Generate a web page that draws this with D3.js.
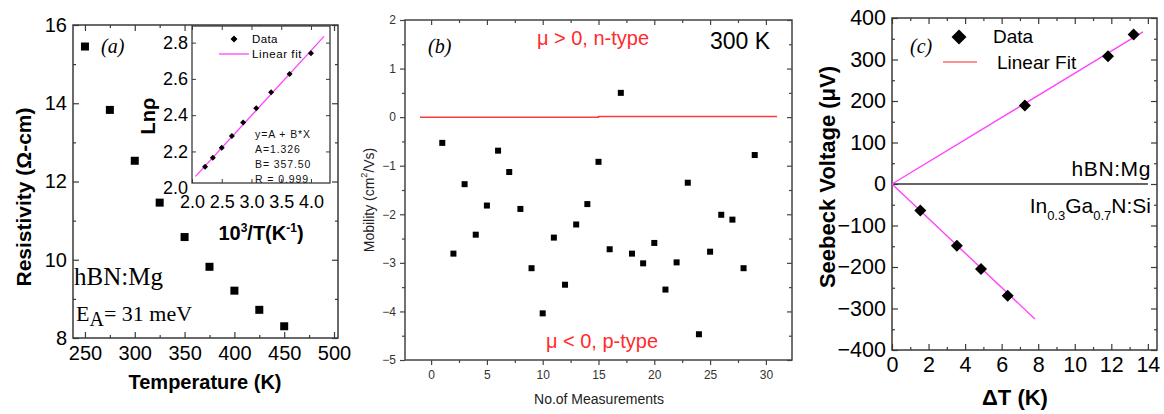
<!DOCTYPE html>
<html>
<head>
<meta charset="utf-8">
<script src="https://cdn.jsdelivr.net/npm/d3@7"></script>
<style>
  body { margin: 0; background: #fff; }
  svg { display: block; }
</style>
</head>
<body>
<svg id="fig" width="1164" height="414" font-family="Liberation Sans, Arial, sans-serif"></svg>
<script>
// ---------- (a) resistivity of hBN:Mg vs temperature ----------
const temperatureK = [250, 275, 300, 325, 350, 375, 400, 425, 450];
const resistivity  = [15.45, 13.83, 12.53, 11.46, 10.58, 9.82, 9.21, 8.72, 8.30];
const tempTicks    = [250, 300, 350, 400, 450, 500];
const rhoTicks     = [8, 10, 12, 14, 16];

// inset: Arrhenius plot, ln(rho) vs 10^3/T
const invTemp      = [2.22, 2.35, 2.50, 2.67, 2.86, 3.08, 3.33, 3.64, 4.00];
const lnRho        = [2.116, 2.165, 2.220, 2.285, 2.360, 2.438, 2.526, 2.627, 2.741];
const invTempTicks = [2.0, 2.5, 3.0, 3.5, 4.0];
const lnRhoTicks   = [2.0, 2.2, 2.4, 2.6, 2.8];
const fitA = 1.326, fitB = 357.50;          // y = A + B*X  (X = 1/T)
const fitRange = [2.06, 4.22];

// ---------- (b) Hall mobility at 300 K ----------
const measurementNo = [1,2,3,4,5,6,7,8,9,10,11,12,13,14,15,16,17,18,19,20,21,22,23,24,25,26,27,28,29];
const mobility = [-0.53, -2.81, -1.38, -2.42, -1.82, -0.69, -1.13, -1.89, -3.11, -4.04,
                  -2.48, -3.45, -2.21, -1.79, -0.92, -2.72, 0.50, -2.81, -3.01, -2.59,
                  -3.55, -2.99, -1.35, -4.47, -2.77, -2.01, -2.11, -3.11, -0.78];
const zeroLineX = [-1, 15, 15, 31];
const zeroLineY = [0, 0, 0.015, 0.015];
const measTicks = [0, 5, 10, 15, 20, 25, 30];
const mobTicks  = [-5, -4, -3, -2, -1, 0, 1, 2];

// ---------- (c) Seebeck voltage vs temperature difference ----------
const hbnDeltaT    = [7.27, 11.82, 13.22];
const hbnSeebeck   = [189, 308, 360];
const inganDeltaT  = [1.55, 3.55, 4.87, 6.33];
const inganSeebeck = [-64, -149, -205, -269];
const fitSlopes    = [26.7, -41.6];          // uV/K, fits through the origin
const fitEnds      = [13.73, 7.82];
const dTTicks      = [0, 2, 4, 6, 8, 10, 12, 14];
const seebeckTicks = [-400, -300, -200, -100, 0, 100, 200, 300, 400];

const svg = d3.select("#fig");
const FRAME = "#3a3a3a";
const MAGENTA = "#ff44ff";
const SANS = "Liberation Sans, Arial, sans-serif";
const SERIF = "Liberation Serif, Times New Roman, serif";

// Draws one axis side: ticks (inward when size < 0) and optional labels.
function axisSide(g, maker, scale, values, opts) {
  const ax = maker(scale).tickValues(values)
    .tickSizeInner(opts.size).tickSizeOuter(0)
    .tickPadding(opts.pad || 3)
    .tickFormat(opts.fmt || (() => ""));
  const a = g.append("g").attr("transform", opts.tr).call(ax);
  a.attr("font-family", SANS);
  a.select(".domain").remove();
  a.selectAll(".tick line").attr("stroke", opts.color || FRAME).attr("stroke-width", opts.sw || 1.2);
  a.selectAll(".tick text")
    .attr("font-size", opts.fs || 12)
    .attr("fill", opts.tc || "#000");
  return a;
}
function minors(major) {
  const out = [];
  for (let i = 0; i < major.length - 1; i++) out.push((major[i] + major[i + 1]) / 2);
  return out;
}
function frame(g, x0, y0, x1, y1, sw, color) {
  g.append("rect").attr("x", x0).attr("y", y0).attr("width", x1 - x0).attr("height", y1 - y0)
    .attr("fill", "none").attr("stroke", color || FRAME).attr("stroke-width", sw || 1.5);
}
function diamond(g, cx, cy, s) {
  g.append("path")
    .attr("d", `M${cx},${cy - s / 2}L${cx + s / 2},${cy}L${cx},${cy + s / 2}L${cx - s / 2},${cy}Z`)
    .attr("fill", "#000");
}

// ======================= panel (a) =======================
const gA = svg.append("g");
const A = { l: 73, r: 338, t: 25, b: 338 };
const xA = d3.scaleLinear().domain([238, 504]).range([A.l, A.r]);
const yA = d3.scaleLinear().domain([8, 16]).range([A.b, A.t]);

axisSide(gA, d3.axisBottom, xA, tempTicks, { tr: `translate(0,${A.b})`, size: -6, pad: 8, fs: 20, fmt: d3.format("d") });
axisSide(gA, d3.axisBottom, xA, minors(tempTicks), { tr: `translate(0,${A.b})`, size: -3 });
axisSide(gA, d3.axisTop, xA, tempTicks, { tr: `translate(0,${A.t})`, size: -6 });
axisSide(gA, d3.axisTop, xA, minors(tempTicks), { tr: `translate(0,${A.t})`, size: -3 });
axisSide(gA, d3.axisLeft, yA, rhoTicks, { tr: `translate(${A.l},0)`, size: -6, pad: 6, fs: 20, fmt: d3.format("d") });
axisSide(gA, d3.axisLeft, yA, minors(rhoTicks), { tr: `translate(${A.l},0)`, size: -3 });
axisSide(gA, d3.axisRight, yA, rhoTicks, { tr: `translate(${A.r},0)`, size: -6 });
axisSide(gA, d3.axisRight, yA, minors(rhoTicks), { tr: `translate(${A.r},0)`, size: -3 });
frame(gA, A.l, A.t, A.r, A.b);

gA.selectAll("rect.pt").data(temperatureK).join("rect").attr("class", "pt")
  .attr("x", (d) => xA(d) - 4).attr("y", (d, i) => yA(resistivity[i]) - 4)
  .attr("width", 8).attr("height", 8).attr("fill", "#000");

gA.append("text").attr("transform", "translate(23,197) rotate(-90)")
  .attr("text-anchor", "middle").attr("dominant-baseline", "central")
  .attr("font-weight", "bold").attr("font-size", 21).text("Resistivity (Ω-cm)");
gA.append("text").attr("x", 205).attr("y", 389).attr("text-anchor", "middle")
  .attr("font-weight", "bold").attr("font-size", 20).text("Temperature (K)");
gA.append("text").attr("x", 101).attr("y", 53).attr("font-family", SERIF)
  .attr("font-style", "italic").attr("font-size", 20).text("(a)");
gA.append("text").attr("x", 74).attr("y", 285).attr("font-family", SERIF)
  .attr("font-size", 25).text("hBN:Mg");
const ea = gA.append("text").attr("x", 76).attr("y", 321).attr("font-family", SERIF)
  .attr("font-size", 22);
ea.append("tspan").text("E");
ea.append("tspan").attr("dy", 5).attr("font-size", 20).text("A");
ea.append("tspan").attr("dy", -5).text("= 31 meV");

// ---------- inset ----------
const gI = svg.append("g");
const I = { l: 192, r: 330, t: 26, b: 183 };
const xI = d3.scaleLinear().domain([2.0, 4.32]).range([I.l, I.r]);
const yI = d3.scaleLinear().domain([2.0, 2.8]).range([187.7, 42.6]);
gI.append("rect").attr("x", I.l).attr("y", I.t).attr("width", I.r - I.l).attr("height", I.b - I.t).attr("fill", "#fff");
axisSide(gI, d3.axisBottom, xI, invTempTicks, { tr: `translate(0,${I.b})`, size: -4, pad: 12, fs: 18, fmt: d3.format(".1f"), sw: 1 });
axisSide(gI, d3.axisTop, xI, invTempTicks, { tr: `translate(0,${I.t})`, size: -4, sw: 1 });
axisSide(gI, d3.axisLeft, yI, lnRhoTicks.slice(1), { tr: `translate(${I.l},0)`, size: -4, sw: 1 });
axisSide(gI, d3.axisLeft, yI, lnRhoTicks, { tr: `translate(${I.l},0)`, size: 0, pad: 4, fs: 18, fmt: d3.format(".1f") });
axisSide(gI, d3.axisRight, yI, lnRhoTicks.slice(1), { tr: `translate(${I.r},0)`, size: -4, sw: 1 });
frame(gI, I.l, I.t, I.r, I.b, 1.3);

const fitLine = d3.line().x((d) => xI(d)).y((d) => yI(fitA + (fitB / 1000) * d));
gI.append("path").attr("d", fitLine(fitRange)).attr("stroke", MAGENTA).attr("stroke-width", 1.3).attr("fill", "none");
invTemp.forEach((v, i) => diamond(gI, xI(v), yI(lnRho[i]), 6));

diamond(gI, 234, 39, 7);
gI.append("text").attr("x", 252).attr("y", 43).attr("font-size", 11.5).attr("letter-spacing", 0.4).text("Data");
gI.append("line").attr("x1", 219).attr("x2", 249).attr("y1", 54).attr("y2", 54).attr("stroke", MAGENTA).attr("stroke-width", 1.3);
gI.append("text").attr("x", 252).attr("y", 58).attr("font-size", 11.5).attr("letter-spacing", 0.6).text("Linear fit");
const ann = ["y=A + B*X", `A=${fitA.toFixed(3)}`, `B= ${fitB.toFixed(2)}`, "R = 0.999"];
gI.selectAll("text.ann").data(ann).join("text").attr("class", "ann")
  .attr("x", 255).attr("y", (d, i) => 137.5 + i * 15)
  .attr("font-size", 10.5).attr("letter-spacing", 0.9).attr("fill", "#111").text((d) => d);

gI.append("text").attr("transform", "translate(148,116) rotate(-90)")
  .attr("text-anchor", "middle").attr("dominant-baseline", "central")
  .attr("font-weight", "bold").attr("font-size", 20).text("Lnρ");
const ix = gI.append("text").attr("x", 261).attr("y", 240).attr("text-anchor", "middle")
  .attr("font-weight", "bold").attr("font-size", 20);
ix.append("tspan").text("10");
ix.append("tspan").attr("dy", -8).attr("font-size", 12).text("3");
ix.append("tspan").attr("dy", 8).text("/T(K");
ix.append("tspan").attr("dy", -8).attr("font-size", 12).text("-1");
ix.append("tspan").attr("dy", 8).text(")");

// ======================= panel (b) =======================
const gB = svg.append("g");
const B = { l: 405, r: 792, t: 20, b: 360 };
const xB = d3.scaleLinear().domain([-2.34, 32.34]).range([B.l, B.r]);
const yB = d3.scaleLinear().domain([-5, 2]).range([B.b, B.t]);
const BF = "#444";

axisSide(gB, d3.axisBottom, xB, measTicks, { tr: `translate(0,${B.b})`, size: 5, pad: 5, fs: 12, tc: "#333", fmt: d3.format("d"), color: BF });
axisSide(gB, d3.axisBottom, xB, minors(measTicks), { tr: `translate(0,${B.b})`, size: 3, color: BF });
axisSide(gB, d3.axisTop, xB, measTicks, { tr: `translate(0,${B.t})`, size: -5, color: BF });
axisSide(gB, d3.axisTop, xB, minors(measTicks), { tr: `translate(0,${B.t})`, size: -3, color: BF });
axisSide(gB, d3.axisLeft, yB, mobTicks, { tr: `translate(${B.l},0)`, size: 5, pad: 4, fs: 12, tc: "#333", fmt: d3.format("d"), color: BF });
axisSide(gB, d3.axisLeft, yB, minors(mobTicks), { tr: `translate(${B.l},0)`, size: 3, color: BF });
axisSide(gB, d3.axisRight, yB, mobTicks, { tr: `translate(${B.r},0)`, size: -5, color: BF });
axisSide(gB, d3.axisRight, yB, minors(mobTicks), { tr: `translate(${B.r},0)`, size: -3, color: BF });
frame(gB, B.l, B.t, B.r, B.b, 1.5, BF);

const zl = d3.line().x((d) => xB(d)).y((d, i) => yB(zeroLineY[i]));
gB.append("path").attr("d", zl(zeroLineX)).attr("stroke", "#ff3b3b").attr("stroke-width", 1.5).attr("fill", "none");

gB.selectAll("rect.pt").data(measurementNo).join("rect").attr("class", "pt")
  .attr("x", (d) => xB(d) - 3).attr("y", (d, i) => yB(mobility[i]) - 3)
  .attr("width", 6).attr("height", 6).attr("fill", "#000");

gB.append("text").attr("x", 593).attr("y", 45).attr("text-anchor", "middle")
  .attr("font-size", 20).attr("fill", "#ff2b2b").text("μ > 0, n-type");
gB.append("text").attr("x", 602).attr("y", 348).attr("text-anchor", "middle")
  .attr("font-size", 20).attr("fill", "#ff2b2b").text("μ < 0, p-type");
gB.append("text").attr("x", 710).attr("y", 49).attr("font-size", 23).text("300 K");
gB.append("text").attr("x", 428).attr("y", 53).attr("font-family", SERIF)
  .attr("font-style", "italic").attr("font-size", 20).text("(b)");
const my = gB.append("text").attr("transform", "translate(369,200) rotate(-90)")
  .attr("text-anchor", "middle").attr("dominant-baseline", "central")
  .attr("font-size", 14).attr("fill", "#222");
my.append("tspan").text("Mobility (cm");
my.append("tspan").attr("dy", -5).attr("font-size", 9).text("2");
my.append("tspan").attr("dy", 5).text("/Vs)");
gB.append("text").attr("x", 599).attr("y", 404).attr("text-anchor", "middle")
  .attr("font-size", 14).attr("fill", "#222").text("No.of Measurements");

// ======================= panel (c) =======================
const gC = svg.append("g");
const C = { l: 892, r: 1157, t: 18, b: 350 };
const xC = d3.scaleLinear().domain([0, 14.5]).range([C.l, C.r]);
const yC = d3.scaleLinear().domain([-400, 400]).range([C.b, C.t]);

axisSide(gC, d3.axisBottom, xC, dTTicks, { tr: `translate(0,${C.b})`, size: -6, pad: 7, fs: 21.5, fmt: d3.format("d") });
axisSide(gC, d3.axisBottom, xC, minors(dTTicks), { tr: `translate(0,${C.b})`, size: -3 });
axisSide(gC, d3.axisTop, xC, dTTicks, { tr: `translate(0,${C.t})`, size: -6 });
axisSide(gC, d3.axisTop, xC, minors(dTTicks), { tr: `translate(0,${C.t})`, size: -3 });
axisSide(gC, d3.axisLeft, yC, seebeckTicks, { tr: `translate(${C.l},0)`, size: -6, pad: 6, fs: 21.5, fmt: d3.format("d") });
axisSide(gC, d3.axisLeft, yC, minors(seebeckTicks), { tr: `translate(${C.l},0)`, size: -3 });
axisSide(gC, d3.axisRight, yC, seebeckTicks, { tr: `translate(${C.r},0)`, size: -6 });
axisSide(gC, d3.axisRight, yC, minors(seebeckTicks), { tr: `translate(${C.r},0)`, size: -3 });
frame(gC, C.l, C.t, C.r, C.b);

gC.append("line").attr("x1", xC(0)).attr("x2", xC(14)).attr("y1", yC(0)).attr("y2", yC(0))
  .attr("stroke", "#333").attr("stroke-width", 1.5);
fitSlopes.forEach((k, i) => {
  gC.append("line").attr("x1", xC(0)).attr("y1", yC(0))
    .attr("x2", xC(fitEnds[i])).attr("y2", yC(k * fitEnds[i]))
    .attr("stroke", MAGENTA).attr("stroke-width", 1.4);
});
hbnDeltaT.forEach((v, i) => diamond(gC, xC(v), yC(hbnSeebeck[i]), 12));
inganDeltaT.forEach((v, i) => diamond(gC, xC(v), yC(inganSeebeck[i]), 12));

diamond(gC, 959, 37, 15);
gC.append("text").attr("x", 993).attr("y", 43).attr("font-size", 19).text("Data");
gC.append("line").attr("x1", 943).attr("x2", 977).attr("y1", 62).attr("y2", 62)
  .attr("stroke", "#ff6b6b").attr("stroke-width", 1.6);
gC.append("text").attr("x", 997).attr("y", 69).attr("font-size", 19).text("Linear Fit");
gC.append("text").attr("x", 910).attr("y", 53).attr("font-family", SERIF)
  .attr("font-style", "italic").attr("font-size", 20).text("(c)");
gC.append("text").attr("x", 1151).attr("y", 176).attr("text-anchor", "end")
  .attr("font-size", 21).attr("letter-spacing", 0.6).text("hBN:Mg");
const ing = gC.append("text").attr("x", 1151).attr("y", 213).attr("text-anchor", "end").attr("font-size", 21);
ing.append("tspan").text("In");
ing.append("tspan").attr("dy", 7).attr("font-size", 13).text("0.3");
ing.append("tspan").attr("dy", -7).text("Ga");
ing.append("tspan").attr("dy", 7).attr("font-size", 13).text("0.7");
ing.append("tspan").attr("dy", -7).text("N:Si");

gC.append("text").attr("transform", "translate(827,177) rotate(-90)")
  .attr("text-anchor", "middle").attr("dominant-baseline", "central")
  .attr("font-weight", "bold").attr("font-size", 22).text("Seebeck Voltage (μV)");
gC.append("text").attr("x", 1015).attr("y", 405).attr("text-anchor", "middle")
  .attr("font-weight", "bold").attr("font-size", 22).text("ΔT (K)");
</script>
</body>
</html>
